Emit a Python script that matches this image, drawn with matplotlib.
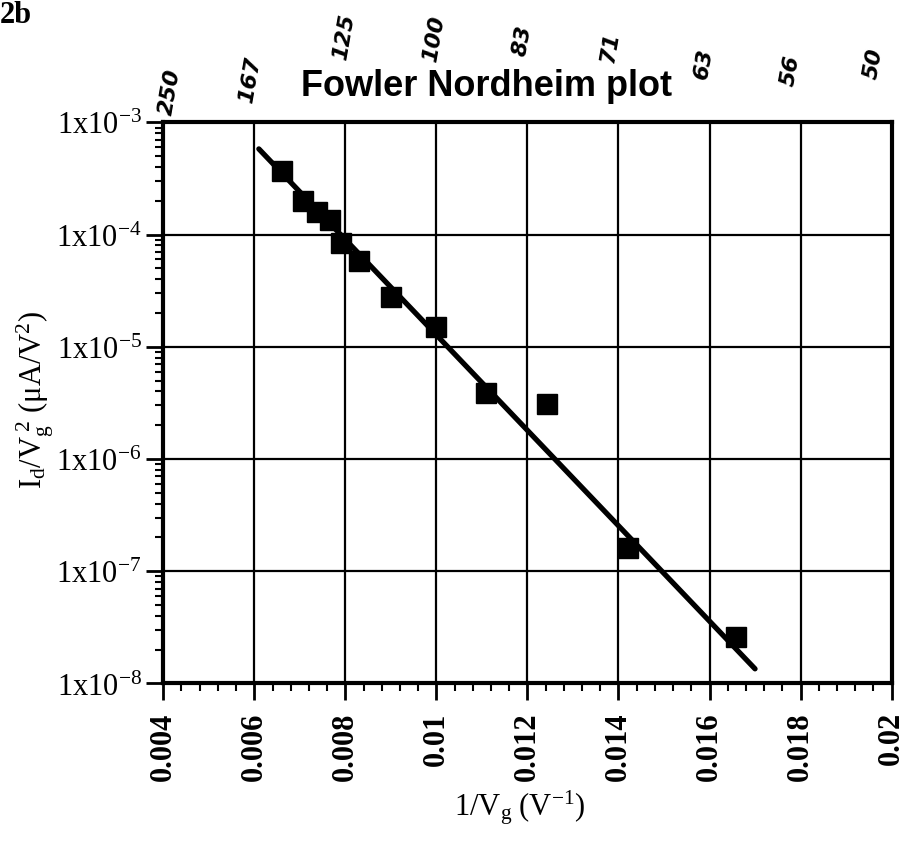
import matplotlib
matplotlib.use("Agg")
import matplotlib.pyplot as plt
import numpy as np

# measured points (1/Vg, Id/Vg^2)
inv_vg = [0.0066, 0.00707, 0.00737, 0.00766, 0.0079, 0.0083, 0.0090, 0.0100,
          0.01109, 0.01242, 0.01421, 0.01659]
id_vg2 = [3.7e-4, 2.0e-4, 1.6e-4, 1.36e-4, 8.5e-5, 5.8e-5, 2.8e-5, 1.5e-5,
          3.9e-6, 3.1e-6, 1.62e-7, 2.6e-8]

# fitted line end points
fit_x = [0.0061, 0.0170]
fit_y = [5.8e-4, 1.35e-8]

xticks = [0.004, 0.006, 0.008, 0.01, 0.012, 0.014, 0.016, 0.018, 0.02]
xticklabels = ['0.004', '0.006', '0.008', '0.01', '0.012', '0.014', '0.016', '0.018', '0.02']
yticks = [1e-8, 1e-7, 1e-6, 1e-5, 1e-4, 1e-3]
top_labels = ['250', '167', '125', '100', '83', '71', '63', '56', '50']

plt.rcParams['font.family'] = ['Liberation Serif', 'DejaVu Serif']
plt.rcParams['mathtext.fontset'] = 'stix'

fig = plt.figure(figsize=(9.07, 8.45), dpi=100)
ax = fig.add_axes([0.180, 0.190, 0.803, 0.664])

ax.plot(fit_x, fit_y, color='black', lw=3.8, solid_capstyle='round', zorder=3)
ax.plot(inv_vg, id_vg2, 's', color='black', markersize=15, zorder=4)

ax.set_yscale('log')
ax.set_xlim(0.004, 0.02)
ax.set_ylim(1e-8, 1e-3)

ax.set_xticks(xticks)
ax.set_xticklabels(xticklabels, rotation=90, fontsize=22, fontweight='bold')
ax.set_xticks(np.arange(0.004, 0.0201, 0.0004), minor=True)
ax.set_yticks(yticks)
ax.set_yticklabels([r'$\mathregular{1x10^{%d}}$' % int(np.log10(v)) for v in yticks], fontsize=22)

ax.tick_params(which='major', direction='out', length=12, width=2, color='black')
ax.tick_params(which='minor', direction='out', length=6, width=1.5, color='black')
ax.tick_params(axis='x', pad=8)
ax.grid(True, which='major', color='black', lw=1.6)

for s in ax.spines.values():
    s.set_linewidth(3)

# handwritten top scale (Vg)
heights = [1.055, 1.078, 1.153, 1.151, 1.148, 1.135, 1.107, 1.094, 1.107]
shifts = [0.00015, -0.00009, -0.00002, -0.00004, -0.00011, -0.00018, -0.00013, -0.00022, -0.00039]
for xv, lab, h, dx in zip(xticks, top_labels, heights, shifts):
    ax.text(xv + dx, h, lab, transform=ax.get_xaxis_transform(), rotation=80,
            ha='center', va='center', fontsize=16, fontstyle='italic', fontweight='bold',
            family='DejaVu Sans')

ax.text(0.444, 1.066, 'Fowler Nordheim plot', transform=ax.transAxes, ha='center',
        va='center', fontsize=26, fontweight='bold', family='Liberation Sans')

fig.text(0.0, 0.999, '2b', fontsize=22, fontweight='bold', ha='left', va='top')

fig.text(0.039, 0.527, r'$\mathregular{I_d/V_g^{\ 2}\ (\mu A/V^2)}$', rotation=90,
         ha='center', va='center', fontsize=22)
fig.text(0.573, 0.044, r'$\mathregular{1/V_g\ (V^{-1})}$', ha='center', va='center',
         fontsize=22)

fig.savefig('out.png', dpi=100)
